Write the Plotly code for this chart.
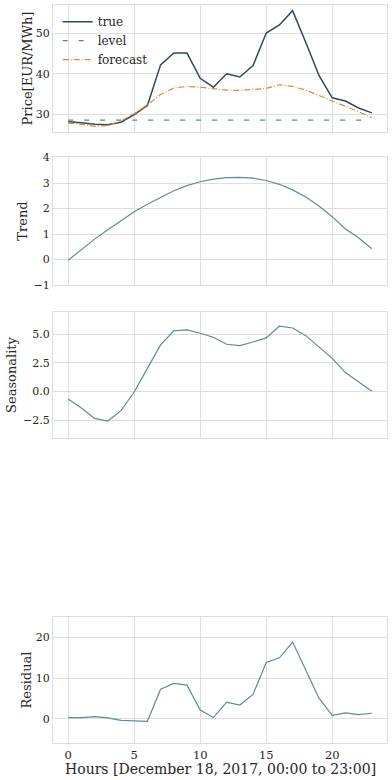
import plotly.graph_objects as go

hours = list(range(24))
true_price = [28.2, 28.0, 27.6, 27.5, 28.1, 30.0, 32.2, 42.2, 45.1, 45.1, 38.9, 36.7,
              40.0, 39.2, 42.0, 50.0, 52.0, 55.5, 47.7, 39.6, 34.1, 33.3, 31.6, 30.4]
level = [28.6] * 24
forecast = [27.9, 27.6, 27.1, 27.3, 28.4, 30.2, 32.4, 34.9, 36.5, 36.9, 36.7, 36.4,
            36.0, 35.9, 36.1, 36.4, 37.3, 36.9, 36.0, 34.7, 33.5, 32.0, 30.7, 29.2]
trend = [-0.03, 0.40, 0.80, 1.17, 1.53, 1.87, 2.17, 2.45, 2.70, 2.90, 3.05, 3.15,
         3.21, 3.22, 3.19, 3.10, 2.95, 2.73, 2.45, 2.10, 1.68, 1.20, 0.85, 0.42]
seasonality = [-0.64, -1.42, -2.33, -2.56, -1.66, -0.03, 2.03, 4.07, 5.30, 5.38, 5.09, 4.74,
               4.13, 4.01, 4.33, 4.68, 5.70, 5.55, 4.88, 3.92, 2.90, 1.66, 0.81, 0.03]
residual = [0.33, 0.33, 0.57, 0.25, -0.33, -0.41, -0.57, 7.3, 8.7, 8.3, 2.2, 0.33,
            4.1, 3.4, 6.0, 13.85, 15.0, 18.85, 11.8, 5.1, 0.9, 1.5, 1.07, 1.4]
x_ticks = [0, 5, 10, 15, 20]
x_title = "Hours [December 18, 2017, 00:00 to 23:00]"

C_TRUE = "#2e4a5f"
C_LEVEL = "#4f8a9a"
C_FC = "#e0892f"
C_COMP = "#5e8c99"
FONT = "DejaVu Serif"
GRID = "#dedede"
TXT = "#262626"

fig = go.Figure()
fig.add_trace(go.Scatter(x=hours, y=true_price, mode="lines", name="true",
                         line=dict(color=C_TRUE, width=1.5), xaxis="x", yaxis="y"))
fig.add_trace(go.Scatter(x=hours, y=level, mode="lines", name="level",
                         line=dict(color=C_LEVEL, width=1.2, dash="5px,11px"), xaxis="x", yaxis="y"))
fig.add_trace(go.Scatter(x=hours, y=forecast, mode="lines", name="forecast",
                         line=dict(color=C_FC, width=1.2, dash="6px,2px,1px,2px"), xaxis="x", yaxis="y"))
fig.add_trace(go.Scatter(x=hours, y=trend, mode="lines", showlegend=False,
                         line=dict(color=C_COMP, width=1.2), xaxis="x2", yaxis="y2"))
fig.add_trace(go.Scatter(x=hours, y=seasonality, mode="lines", showlegend=False,
                         line=dict(color=C_COMP, width=1.2), xaxis="x3", yaxis="y3"))
fig.add_trace(go.Scatter(x=hours, y=residual, mode="lines", showlegend=False,
                         line=dict(color=C_COMP, width=1.2), xaxis="x4", yaxis="y4"))

xr = [-1.15, 24.15]
def xax(anchor, labels):
    return dict(range=xr, domain=[0, 1], anchor=anchor, tickvals=x_ticks,
                showticklabels=labels, showgrid=True, gridcolor=GRID, gridwidth=1,
                zeroline=False, showline=True, linecolor=GRID, mirror=True, ticks="",
                automargin=False, ticklabelstandoff=1,
                tickfont=dict(family=FONT, size=11.5, color=TXT))

def yax(anchor, dom, rng, tv, title, standoff, fmt=None):
    d = dict(domain=dom, range=rng, anchor=anchor, tickvals=tv, showgrid=True,
             gridcolor=GRID, gridwidth=1, zeroline=False, showline=True, linecolor=GRID,
             mirror=True, ticks="", automargin=True,
             tickfont=dict(family=FONT, size=11, color=TXT),
             title=dict(text=title, font=dict(family=FONT, size=13, color=TXT), standoff=standoff))
    if fmt:
        d["tickformat"] = fmt
    return d

fig.update_layout(
    width=392, height=780,
    margin=dict(l=53, r=5, t=5, b=37, autoexpand=False),
    paper_bgcolor="white", plot_bgcolor="white",
    font=dict(family=FONT, color=TXT),
    xaxis=xax("y", False),
    xaxis2=xax("y2", False),
    xaxis3=xax("y3", False),
    xaxis4=xax("y4", True),
    yaxis=yax("x", [0.8279, 1.0], [25.7, 56.9], [30, 40, 50], "Price[EUR/MWh]", 0),
    yaxis2=yax("x2", [0.6206, 0.7940], [-1.0, 4.02], [-1, 0, 1, 2, 3, 4], "Trend", 3),
    yaxis3=yax("x3", [0.4133, 0.5840], [-4.04, 6.94], [-2.5, 0, 2.5, 5], "Seasonality", 3, ".1f"),
    yaxis4=yax("x4", [0.0, 0.1707], [-5.9, 25.0], [0, 10, 20], "Residual", 1),
    annotations=[dict(text=x_title, xref="paper", yref="paper", x=0.5, y=-0.0225,
                      xanchor="center", yanchor="top", showarrow=False, borderpad=0,
                      font=dict(family=FONT, size=14, color=TXT))],
    legend=dict(x=0.014, y=0.997, xanchor="left", yanchor="top", bgcolor="rgba(0,0,0,0)",
                font=dict(family=FONT, size=12, color=TXT), tracegroupgap=0, itemwidth=30),
    showlegend=True,
)

fig.write_html("out.html", config={"displayModeBar": False},
               post_script="document.body.style.margin='0';document.body.style.overflow='hidden';")
